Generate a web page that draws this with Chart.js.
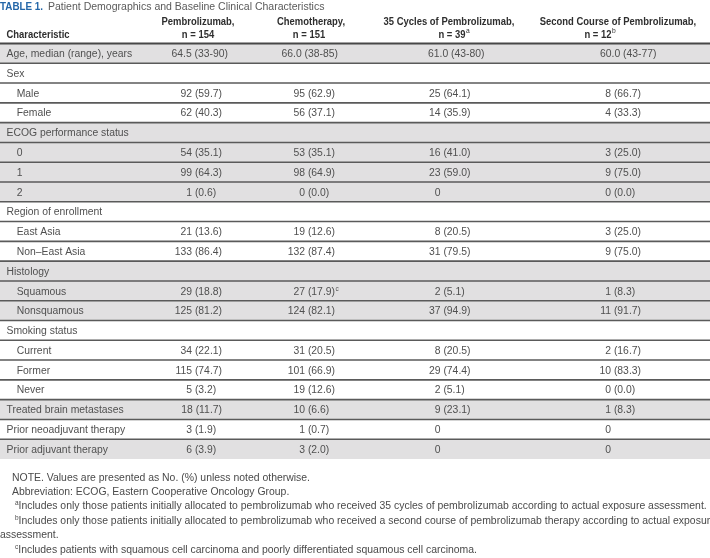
<!DOCTYPE html>
<html>
<head>
<meta charset="utf-8">
<script src="https://cdn.jsdelivr.net/npm/chart.js@4.4.1/dist/chart.umd.min.js"></script>
<style>
  html, body { margin: 0; padding: 0; background: #fff; }
  canvas { display: block; }
</style>
</head>
<body>
<canvas id="tbl" width="710" height="558"></canvas>
<script>
// Table 1 data
const rowLabels = [
  'Age, median (range), years', 'Sex', 'Male', 'Female',
  'ECOG performance status', '0', '1', '2',
  'Region of enrollment', 'East Asia', 'Non\u2013East Asia',
  'Histology', 'Squamous', 'Nonsquamous',
  'Smoking status', 'Current', 'Former', 'Never',
  'Treated brain metastases', 'Prior neoadjuvant therapy', 'Prior adjuvant therapy'
];
// true = sub-category of the section heading above it
const rowIsSub = [false, false, true, true, false, true, true, true, false, true, true,
  false, true, true, false, true, true, true, false, false, false];

const groupNames = ['Pembrolizumab,', 'Chemotherapy,', '35 Cycles of Pembrolizumab,', 'Second Course of Pembrolizumab,'];
const groupN = [154, 151, 39, 12];
const groupNNote = ['', '', 'a', 'b'];

const ageMedian = [64.5, 66.0, 61.0, 60.0];
const ageMin = [33, 38, 43, 43];
const ageMax = [90, 85, 80, 77];

const pembroCount = [null, null, 92, 62, null, 54, 99, 1, null, 21, 133, null, 29, 125, null, 34, 115, 5, 18, 3, 6];
const pembroPct = [null, null, 59.7, 40.3, null, 35.1, 64.3, 0.6, null, 13.6, 86.4, null, 18.8, 81.2, null, 22.1, 74.7, 3.2, 11.7, 1.9, 3.9];
const chemoCount = [null, null, 95, 56, null, 53, 98, 0, null, 19, 132, null, 27, 124, null, 31, 101, 19, 10, 1, 3];
const chemoPct = [null, null, 62.9, 37.1, null, 35.1, 64.9, 0.0, null, 12.6, 87.4, null, 17.9, 82.1, null, 20.5, 66.9, 12.6, 6.6, 0.7, 2.0];
const cyclesCount = [null, null, 25, 14, null, 16, 23, 0, null, 8, 31, null, 2, 37, null, 8, 29, 2, 9, 0, 0];
const cyclesPct = [null, null, 64.1, 35.9, null, 41.0, 59.0, null, null, 20.5, 79.5, null, 5.1, 94.9, null, 20.5, 74.4, 5.1, 23.1, null, null];
const secondCount = [null, null, 8, 4, null, 3, 9, 0, null, 3, 9, null, 1, 11, null, 2, 10, 0, 1, 0, 0];
const secondPct = [null, null, 66.7, 33.3, null, 25.0, 75.0, 0.0, null, 25.0, 75.0, null, 8.3, 91.7, null, 16.7, 83.3, 0.0, 8.3, null, null];
const chemoNotes = { 12: 'c' };

const titleLabel = 'TABLE 1.';
const titleText = 'Patient Demographics and Baseline Clinical Characteristics';
const notes = [
  ['', 'NOTE. Values are presented as No. (%) unless noted otherwise.'],
  ['', 'Abbreviation: ECOG, Eastern Cooperative Oncology Group.'],
  ['a', 'Includes only those patients initially allocated to pembrolizumab who received 35 cycles of pembrolizumab according to actual exposure assessment.'],
  ['b', 'Includes only those patients initially allocated to pembrolizumab who received a second course of pembrolizumab therapy according to actual exposure'],
  ['', 'assessment.'],
  ['c', 'Includes patients with squamous cell carcinoma and poorly differentiated squamous cell carcinoma.']
];

const counts = [pembroCount, chemoCount, cyclesCount, secondCount];
const pcts = [pembroPct, chemoPct, cyclesPct, secondPct];

// section index -> alternate shading
let sec = -1;
const rowSection = rowIsSub.map(s => (s ? sec : ++sec));

// layout
const BODY = "'Liberation Sans', Arial, sans-serif";
const TEXT = '#505050';
const SHADE = '#e1e0e1';
const colAnchor = [222, 335, 440.5, 611];
const colMode = ['end', 'end', 'count', 'count'];
const ageAnchor = [228, 338, 428, 600];
const headX1 = [198, 311, 449, 618];
const headX2 = [198, 309, 452, 598];
const noteY = [477, 491, 505.5, 520, 534.5, 549.5];
const noteX = [12, 12, 15, 15, 0, 15];
const HEAD_SIZE = 10.8;
const TITLE_BOLD_SIZE = 10.4;

const measureCtx = document.createElement('canvas').getContext('2d');
function fitSize(text, width, weight) {
  measureCtx.font = weight + ' 20px ' + BODY;
  return 20 * width / measureCtx.measureText(text).width;
}
function fitScale(text, width, size, weight) {
  measureCtx.font = weight + ' ' + size + 'px ' + BODY;
  return width / measureCtx.measureText(text).width;
}
const bodySize = fitSize('Age, median (range), years', 126, 'normal');
const noteSize = fitSize(notes[2][1], 689, 'normal');
const titleSize = fitSize(titleText, 277, 'normal');
// condensed bold look: squeeze a regular bold face horizontally
const headScale = fitScale('Pembrolizumab,', 73, HEAD_SIZE, 'bold');
const titleScale = fitScale(titleLabel, 43, TITLE_BOLD_SIZE, 'bold');

function squeezed(ctx, text, x, y, scale, align) {
  ctx.save();
  ctx.translate(x, y);
  ctx.scale(scale, 1);
  ctx.textAlign = align;
  ctx.fillText(text, 0, 0);
  const w = ctx.measureText(text).width * scale;
  ctx.restore();
  return w;
}

function sup(ctx, letter, x, y, size, color) {
  ctx.save();
  ctx.font = 'normal ' + (size * 0.62) + 'px ' + BODY;
  ctx.fillStyle = color;
  ctx.textAlign = 'left';
  ctx.textBaseline = 'alphabetic';
  ctx.fillText(letter, x, y - size * 0.38);
  const w = ctx.measureText(letter).width;
  ctx.restore();
  return w;
}

const tablePlugin = {
  id: 'tableText',
  afterDatasetsDraw(chart) {
    const { ctx, scales: { x, y }, chartArea } = chart;
    const half = (y.getPixelForValue(1) - y.getPixelForValue(0)) / 2;
    const base = size => size * 0.36;

    // row rules
    ctx.save();
    ctx.strokeStyle = '#5a5a5a';
    ctx.lineWidth = 1.6;
    for (let i = 0; i < rowLabels.length - 1; i++) {
      const yb = y.getPixelForValue(i) + half;
      ctx.beginPath();
      ctx.moveTo(chartArea.left, yb);
      ctx.lineTo(chartArea.right, yb);
      ctx.stroke();
    }
    ctx.strokeStyle = '#474747';
    ctx.lineWidth = 2;
    ctx.beginPath();
    ctx.moveTo(chartArea.left, chartArea.top);
    ctx.lineTo(chartArea.right, chartArea.top);
    ctx.stroke();
    ctx.restore();

    ctx.save();
    ctx.textBaseline = 'alphabetic';

    // title
    ctx.font = 'bold ' + TITLE_BOLD_SIZE + 'px ' + BODY;
    ctx.fillStyle = '#2366a8';
    squeezed(ctx, titleLabel, 0, 9.5, titleScale, 'left');
    ctx.font = 'normal ' + titleSize + 'px ' + BODY;
    ctx.fillStyle = '#5a5a5a';
    ctx.textAlign = 'left';
    ctx.fillText(titleText, 48, 9.5);

    // header
    ctx.font = 'bold ' + HEAD_SIZE + 'px ' + BODY;
    ctx.fillStyle = '#2e2e2e';
    squeezed(ctx, 'Characteristic', 6.5, 37.5, headScale, 'left');
    groupNames.forEach((g, c) => {
      squeezed(ctx, g, x.getPixelForValue(headX1[c]), 24.5, headScale, 'center');
      const t = 'n = ' + groupN[c];
      const cx = x.getPixelForValue(headX2[c]);
      const w = squeezed(ctx, t, cx, 37.5, headScale, 'center');
      if (groupNNote[c]) sup(ctx, groupNNote[c], cx + w / 2 + 0.5, 37.5, HEAD_SIZE, '#2e2e2e');
    });

    // body
    ctx.font = 'normal ' + bodySize + 'px ' + BODY;
    ctx.fillStyle = TEXT;
    const digitW = ctx.measureText('0').width;
    rowLabels.forEach((lab, i) => {
      const yc = y.getPixelForValue(i) + base(bodySize);
      ctx.textAlign = 'left';
      ctx.fillText(lab, rowIsSub[i] ? 16.7 : 6.5, yc);
      if (i === 0) {
        for (let c = 0; c < 4; c++) {
          ctx.textAlign = c < 2 ? 'right' : 'left';
          ctx.fillText(ageMedian[c].toFixed(1) + ' (' + ageMin[c] + '-' + ageMax[c] + ')', x.getPixelForValue(ageAnchor[c]), yc);
        }
        return;
      }
      for (let c = 0; c < 4; c++) {
        const n = counts[c][i];
        if (n === null) continue;
        const p = pcts[c][i];
        const pTxt = p === null ? '' : ' (' + p.toFixed(1) + ')';
        if (colMode[c] === 'end') {
          const xr = x.getPixelForValue(colAnchor[c] - (p !== null && p < 10 ? digitW : 0));
          ctx.textAlign = 'right';
          ctx.fillText(n + pTxt, xr, yc);
          if (c === 1 && chemoNotes[i]) sup(ctx, chemoNotes[i], xr + 0.5, yc, bodySize, TEXT);
        } else {
          const xa = x.getPixelForValue(colAnchor[c]);
          ctx.textAlign = 'right';
          ctx.fillText(String(n), xa, yc);
          ctx.textAlign = 'left';
          ctx.fillText(pTxt, xa, yc);
        }
      }
    });

    // notes
    ctx.textAlign = 'left';
    notes.forEach(([mark, txt], k) => {
      const yb = noteY[k] + base(noteSize);
      let xs = noteX[k];
      if (mark) xs += sup(ctx, mark, xs, yb, noteSize, '#4a4a4a');
      ctx.font = 'normal ' + noteSize + 'px ' + BODY;
      ctx.fillStyle = '#4a4a4a';
      ctx.fillText(txt, xs, yb);
    });
    ctx.restore();
  }
};

new Chart(document.getElementById('tbl'), {
  type: 'bar',
  data: {
    labels: rowLabels,
    datasets: [{
      label: 'shading',
      data: rowSection.map(s => (s % 2 === 0 ? [0, 710] : null)),
      backgroundColor: SHADE,
      borderWidth: 0,
      barPercentage: 1,
      categoryPercentage: 1
    }]
  },
  options: {
    indexAxis: 'y',
    responsive: false,
    devicePixelRatio: 1,
    animation: false,
    layout: { padding: { top: 43.5, bottom: 99, left: 0, right: 0 } },
    plugins: { legend: { display: false }, tooltip: { enabled: false } },
    scales: {
      x: { type: 'linear', min: 0, max: 710, display: false },
      y: { type: 'category', display: false, grid: { display: false } }
    }
  },
  plugins: [tablePlugin]
});
</script>
</body>
</html>
